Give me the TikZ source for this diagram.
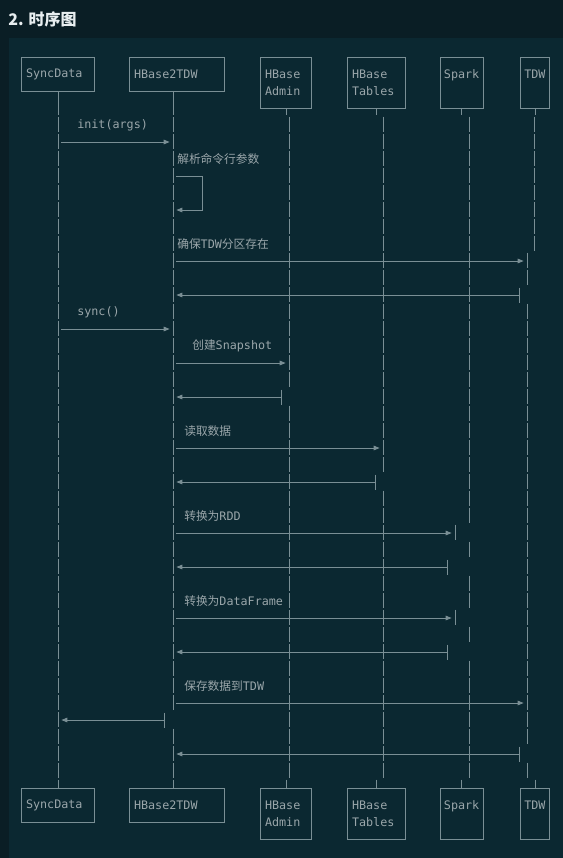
\documentclass[tikz,border=0pt]{standalone}
\usepackage{fontspec}
\setmonofont{DejaVu Sans Mono}
\newfontfamily\cjk{Noto Sans CJK SC}
\usetikzlibrary{arrows.meta}

\definecolor{pagebg}{HTML}{0A1E25}
\definecolor{codebg}{HTML}{0B2831}
\definecolor{linegray}{HTML}{7A8F95}
\definecolor{textgray}{HTML}{9AA6AA}
\definecolor{titlewhite}{HTML}{E8EEF0}

\tikzset{
  mono/.style={font=\ttfamily\fontsize{8.8}{12.75}\selectfont},
  pbox/.style={mono, draw=linegray, line width=0.75pt, text=textgray,
    anchor=north west, align=left, inner xsep=3.4pt, inner ysep=0pt},
  lbl/.style={mono, anchor=west, inner sep=0pt, text=textgray},
  life/.style={draw=linegray, line width=0.75pt, dash pattern=on 11.25pt off 1.5pt},
  stub/.style={draw=linegray, line width=0.75pt},
  msg/.style={draw=linegray, line width=0.75pt, -{Triangle[length=4.5pt,width=3.4pt]},
    shorten <=2.6pt, shorten >=2.5pt},
  ret/.style={msg, {Bar[width=11.25pt]}-{Triangle[length=4.5pt,width=3.4pt]}, shorten <=0pt}
}

\begin{document}
\begin{tikzpicture}[x=0.75pt, y=-0.75pt]
    \useasboundingbox (0,0) rectangle (563,858);
    \fill[pagebg] (0,0) rectangle (563,858);
    \fill[codebg] (9,38) rectangle (563,858);

    % Titulo
    \node[anchor=west, inner sep=0pt, text=titlewhite, font=\cjk\bfseries\fontsize{12}{14}\selectfont] (title) at (8,19) {2. 时序图};

    % Participantes arriba
    \node[pbox, text width=48pt, minimum height=25.5pt] (syncTop) at (21,57) {SyncData};
    \node[pbox, text width=64.5pt, minimum height=25.5pt] (hbTop) at (129,57) {HBase2TDW};
    \node[pbox, text width=31.5pt, minimum height=38.25pt] (admTop) at (260,57) {HBase\\Admin};
    \node[pbox, text width=36.75pt, minimum height=38.25pt] (tabTop) at (347,57) {HBase\\Tables};
    \node[pbox, text width=27pt, minimum height=38.25pt, inner xsep=2.6pt] (spkTop) at (440,57) {Spark\\\mbox{}};
    \node[pbox, text width=16pt, minimum height=38.25pt, inner xsep=2.9pt] (tdwTop) at (520,57) {TDW\\\mbox{}};

    % Participantes abajo
    \node[pbox, text width=48pt, minimum height=25.5pt] (syncBot) at (21,788) {SyncData};
    \node[pbox, text width=64.5pt, minimum height=25.5pt] (hbBot) at (129,788) {HBase2TDW};
    \node[pbox, text width=31.5pt, minimum height=38.25pt] (admBot) at (260,788) {HBase\\Admin};
    \node[pbox, text width=36.75pt, minimum height=38.25pt] (tabBot) at (347,788) {HBase\\Tables};
    \node[pbox, text width=27pt, minimum height=38.25pt, inner xsep=2.6pt] (spkBot) at (440,788) {Spark\\\mbox{}};
    \node[pbox, text width=16pt, minimum height=38.25pt, inner xsep=2.9pt] (tdwBot) at (520,788) {TDW\\\mbox{}};

    % Lineas de vida
    \coordinate (sync) at (58,0);
    \coordinate (hb) at (173,0);
    \coordinate (hbR) at (165,0);
    \coordinate (adm) at (289,0);
    \coordinate (admR) at (282,0);
    \coordinate (tab) at (383,0);
    \coordinate (tabR) at (376,0);
    \coordinate (spk) at (469,0);
    \coordinate (spkF) at (455,0);
    \coordinate (spkR) at (448,0);
    \coordinate (tdwT) at (534,0);
    \coordinate (tdw) at (527,0);
    \coordinate (tdwR) at (520,0);

    \foreach \b/\col in {syncTop/sync, hbTop/hb}
        \draw[stub] (\b.south -| \col) -- (\col |- 0,114.5);
    \foreach \b in {admTop, tabTop, spkTop, tdwTop}
        \draw[stub] (\b.south) -- (\b.south |- 0,114.5);
    \foreach \b/\col in {syncBot/sync, hbBot/hb}
        \draw[stub] (\col |- 0,779.5) -- (\b.north -| \col);
    \foreach \b in {admBot, tabBot, spkBot, tdwBot}
        \draw[stub] (\b.north |- 0,779.5) -- (\b.north);

    \foreach \col/\a/\z in {sync/4/42, hb/4/38, hb/40/42, adm/4/19, adm/21/42,
        tab/4/24, tab/26/42, spk/4/27, spk/29/29, spk/31/32, spk/34/34, spk/36/42,
        spkF/28/28, spkF/33/33, tdwT/4/11, tdw/12/13, tdw/15/40, tdw/42/42}
        \draw[life] (\col |- 0,{57+17*\a-8.5}) -- (\col |- 0,{57+17*\z+6.5});

    % Mensajes
    \node[lbl] (initLbl) at (77,125) {init(args)};
    \draw[msg] (sync |- 0,142) -- (hb |- 0,142);

    \node[lbl] (parseLbl) at (177,159) {\cjk 解析命令行参数};
    \draw[msg] (hb |- 0,176) -| ++(29,34) -- (hb |- 0,210);

    \node[lbl] (partLbl) at (177,244) {{\cjk 确保}TDW{\cjk 分区存在}};
    \draw[msg] (hb |- 0,261) -- (tdw |- 0,261);
    \draw[ret] (tdwR |- 0,295) -- (hb |- 0,295);

    \node[lbl] (syncLbl) at (77,312) {sync()};
    \draw[msg] (sync |- 0,329) -- (hb |- 0,329);

    \node[lbl] (snapLbl) at (192,346) {{\cjk 创建}Snapshot};
    \draw[msg] (hb |- 0,363) -- (adm |- 0,363);
    \draw[ret] (admR |- 0,397) -- (hb |- 0,397);

    \node[lbl] (readLbl) at (184,431) {\cjk 读取数据};
    \draw[msg] (hb |- 0,448) -- (tab |- 0,448);
    \draw[ret] (tabR |- 0,482) -- (hb |- 0,482);

    \node[lbl] (rddLbl) at (184,516) {{\cjk 转换为}RDD};
    \draw[msg] (hb |- 0,533) -- (spkF |- 0,533);
    \draw[ret] (spkR |- 0,567) -- (hb |- 0,567);

    \node[lbl] (dfLbl) at (184,601) {{\cjk 转换为}DataFrame};
    \draw[msg] (hb |- 0,618) -- (spkF |- 0,618);
    \draw[ret] (spkR |- 0,652) -- (hb |- 0,652);

    \node[lbl] (saveLbl) at (184,686) {{\cjk 保存数据到}TDW};
    \draw[msg] (hb |- 0,703) -- (tdw |- 0,703);
    \draw[ret] (hbR |- 0,720) -- (sync |- 0,720);
    \draw[ret] (tdwR |- 0,754) -- (hb |- 0,754);
\end{tikzpicture}
\end{document}
